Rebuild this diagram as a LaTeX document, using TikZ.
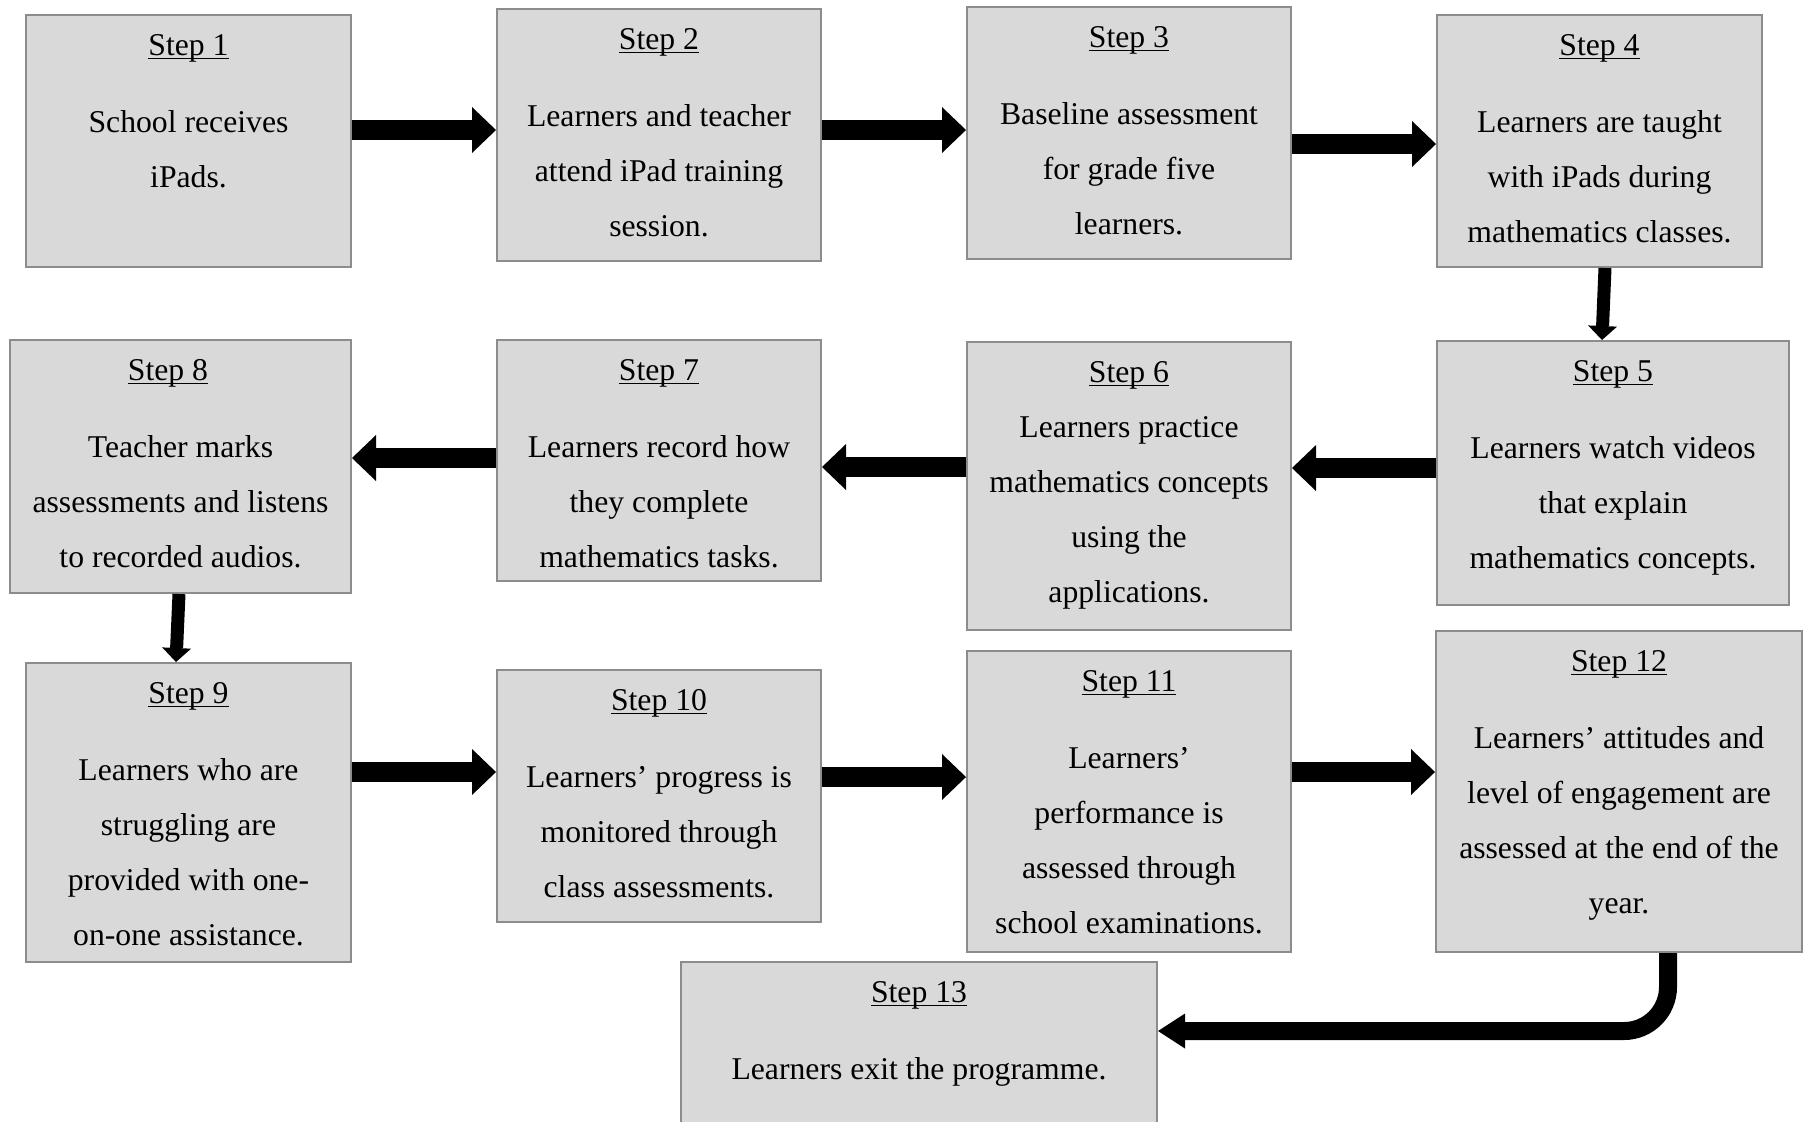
\documentclass[tikz,border=0pt]{standalone}
\usepackage{fontspec}
\setmainfont{Liberation Serif}
\usetikzlibrary{arrows.meta,fit}
\definecolor{boxfill}{HTML}{D9D9D9}
\definecolor{boxline}{HTML}{8C8C8C}
\newcommand\steptitle[1]{\strut\underline{\smash{Step #1}}}

\begin{document}
\begin{tikzpicture}[x=0.5pt,y=-0.5pt,
        box/.style={draw=boxline,fill=boxfill,line width=1pt,inner sep=0pt},
        txt/.style={anchor=north,inner sep=0pt,yshift=-1.25pt,align=center,
            font=\fontsize{15.85pt}{27.5pt}\selectfont},
        fat/.style={line width=10pt,-{Triangle[length=12pt,width=23pt,line width=0pt]}},
        vdown/.style={line width=6.5pt,-{Triangle[length=7pt,width=14.5pt,line width=0pt]}},
        curvearrow/.style={line width=9pt,rounded corners=22pt,
            -{Triangle[length=13.5pt,width=17.5pt,line width=0pt]}}]
        \useasboundingbox (0,0) rectangle (1803,1121);

        % boxes
        \node[box,fit={(26,15) (351,267)}] (s1) {};
        \node[box,fit={(497,9) (821,261)}] (s2) {};
        \node[box,fit={(967,7) (1291,259)}] (s3) {};
        \node[box,fit={(1437,15) (1762,267)}] (s4) {};
        \node[box,fit={(1437,341) (1789,605)}] (s5) {};
        \node[box,fit={(967,342) (1291,630)}] (s6) {};
        \node[box,fit={(497,340) (821,581)}] (s7) {};
        \node[box,fit={(10,340) (351,593)}] (s8) {};
        \node[box,fit={(26,663) (351,962)}] (s9) {};
        \node[box,fit={(497,670) (821,922)}] (s10) {};
        \node[box,fit={(967,651) (1291,952)}] (s11) {};
        \node[box,fit={(1436,631) (1802,952)}] (s12) {};
        \node[box,fit={(681,962) (1157,1124)}] (s13) {};

        % texts
        \node[txt] (t1) at (s1.north) {\steptitle{1}\\[11pt] School receives\\ iPads.};
        \node[txt] (t2) at (s2.north) {\steptitle{2}\\[11pt] Learners and teacher\\ attend iPad training\\ session.};
        \node[txt] (t3) at (s3.north) {\steptitle{3}\\[11pt] Baseline assessment\\ for grade five\\ learners.};
        \node[txt] (t4) at (s4.north) {\steptitle{4}\\[11pt] Learners are taught\\ with iPads during\\ mathematics classes.};
        \node[txt] (t5) at (s5.north) {\steptitle{5}\\[11pt] Learners watch videos\\ that explain\\ mathematics concepts.};
        \node[txt] (t6) at (s6.north) {\steptitle{6}\\ Learners practice\\ mathematics concepts\\ using the\\ applications.};
        \node[txt] (t7) at (s7.north) {\steptitle{7}\\[11pt] Learners record how\\ they complete\\ mathematics tasks.};
        \node[txt] (t8) at (s8.north) {\steptitle{8}\hspace*{12.5pt}\\[11pt] Teacher marks\\ assessments and listens\\ to recorded audios.};
        \node[txt] (t9) at (s9.north) {\steptitle{9}\\[11pt] Learners who are\\ struggling are\\ provided with one-\\ on-one assistance.};
        \node[txt] (t10) at (s10.north) {\steptitle{10}\\[11pt] Learners’ progress is\\ monitored through\\ class assessments.};
        \node[txt] (t11) at (s11.north) {\steptitle{11}\\[11pt] Learners’\\ performance is\\ assessed through\\ school examinations.};
        \node[txt] (t12) at (s12.north) {\steptitle{12}\\[11pt] Learners’ attitudes and\\ level of engagement are\\ assessed at the end of the\\ year.};
        \node[txt] (t13) at (s13.north) {\steptitle{13}\\[11pt] Learners exit the programme.};

        % arrows
        \draw[fat] (s1.east |- 0,130) -- (s2.west |- 0,130);
        \draw[fat] (s2.east |- 0,130) -- (s3.west |- 0,130);
        \draw[fat] (s3.east |- 0,144) -- (s4.west |- 0,144);
        \draw[vdown] (s4.south -| 1605,0) -- (s5.north -| 1602,0);
        \draw[fat] (s5.west |- 0,468) -- (s6.east |- 0,468);
        \draw[fat] (s6.west |- 0,467) -- (s7.east |- 0,467);
        \draw[fat] (s7.west |- 0,458) -- (s8.east |- 0,458);
        \draw[vdown] (s8.south -| 179,0) -- (s9.north -| 176,0);
        \draw[fat] (s9.east |- 0,772) -- (s10.west |- 0,772);
        \draw[fat] (s10.east |- 0,777) -- (s11.west |- 0,777);
        \draw[fat] (s11.east |- 0,772) -- (s12.west |- 0,772);
        \draw[curvearrow] (s12.south -| 1668,0) |- (s13.east |- 0,1031);
\end{tikzpicture}
\end{document}
